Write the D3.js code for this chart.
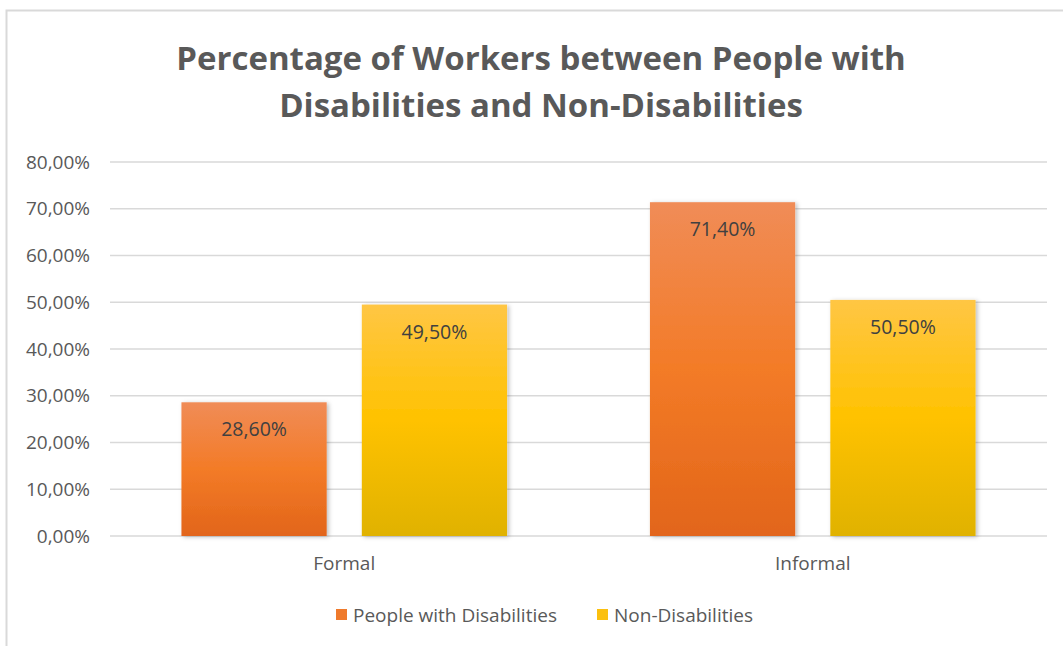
<!DOCTYPE html>
<html>
<head>
<meta charset="utf-8">
<script src="https://cdn.jsdelivr.net/npm/d3@7"></script>
<style>
  body { margin: 0; background: #fff; }
  svg text { font-family: "Open Sans", "Noto Sans", sans-serif; }
</style>
</head>
<body>
<div id="chart"></div>
<script>
// Data
const categories = ["Formal", "Informal"];
const seriesNames = ["People with Disabilities", "Non-Disabilities"];
const disabledValues = [28.6, 71.4];
const nonDisabledValues = [49.5, 50.5];
const yTicks = [0, 10, 20, 30, 40, 50, 60, 70, 80];
const titleLines = ["Percentage of Workers between People with", "Disabilities and Non-Disabilities"];

function drawChart() {
    const W = 1063, H = 646;
    const margin = { top: 162, right: 16, bottom: 110, left: 110 };
    const width = W - margin.left - margin.right;
    const height = H - margin.top - margin.bottom;

    const locale = d3.formatLocale({ decimal: ",", thousands: ".", grouping: [3], currency: ["", "€"] });
    const fmt = v => locale.format(".2f")(v) + "%";

    const svg = d3.select("#chart").append("svg")
        .attr("width", W)
        .attr("height", H);

    // gradients + shadow
    const defs = svg.append("defs");
    const grads = [
        { id: "gOrange", stops: ["#f08c57", "#f37b27", "#e2651a"] },
        { id: "gYellow", stops: ["#ffc644", "#ffc200", "#e0b200"] }
    ];
    grads.forEach(g => {
        const lg = defs.append("linearGradient").attr("id", g.id)
            .attr("x1", 0).attr("y1", 0).attr("x2", 0).attr("y2", 1);
        lg.append("stop").attr("offset", "0%").attr("stop-color", g.stops[0]);
        lg.append("stop").attr("offset", "50%").attr("stop-color", g.stops[1]);
        lg.append("stop").attr("offset", "100%").attr("stop-color", g.stops[2]);
    });
    const f = defs.append("filter").attr("id", "shadow")
        .attr("x", "-10%").attr("y", "-10%").attr("width", "130%").attr("height", "120%");
    f.append("feDropShadow").attr("dx", 2).attr("dy", 1).attr("stdDeviation", 2)
        .attr("flood-color", "#000").attr("flood-opacity", 0.25);

    // chart frame
    svg.append("path")
        .attr("d", `M6.5,${H} V10.5 H${W}`)
        .attr("fill", "none")
        .attr("stroke", "#d9d9d9")
        .attr("stroke-width", 2);

    // title
    svg.append("text")
        .attr("x", 541)
        .attr("text-anchor", "middle")
        .attr("fill", "#595959")
        .style("font-size", "33px")
        .style("font-weight", "bold")
        .selectAll("tspan")
        .data(titleLines)
        .enter().append("tspan")
        .attr("x", 541)
        .attr("y", (d, i) => 70 + i * 47)
        .text(d => d);

    const g = svg.append("g")
        .attr("transform", `translate(${margin.left}, ${margin.top})`);

    const x0 = d3.scaleBand().domain(categories).range([0, width]).padding(0);
    const y = d3.scaleLinear().domain([0, 80]).range([height, 0]);

    // gridlines
    g.append("g")
        .selectAll("line")
        .data(yTicks)
        .enter().append("line")
        .attr("x1", 0).attr("x2", width)
        .attr("y1", d => y(d)).attr("y2", d => y(d))
        .attr("stroke", "#d9d9d9")
        .attr("stroke-width", 1.5);

    // y axis labels
    const yAxis = g.append("g")
        .call(d3.axisLeft(y).tickValues(yTicks).tickFormat(fmt).tickSize(0).tickPadding(20));
    yAxis.select(".domain").remove();
    yAxis.selectAll("text")
        .attr("fill", "#595959")
        .style("font-size", "19px")
        .style("font-family", "'Open Sans', sans-serif");

    // x axis labels
    const xAxis = g.append("g")
        .attr("transform", `translate(0, ${height})`)
        .call(d3.axisBottom(x0).tickSize(0).tickPadding(21));
    xAxis.select(".domain").remove();
    xAxis.selectAll("text")
        .attr("fill", "#595959")
        .style("font-size", "19px")
        .style("font-family", "'Open Sans', sans-serif");

    // bars
    const bw = x0.bandwidth();
    const barW = bw * 0.31;
    const innerGap = bw * 0.075;
    const series = [
        { name: seriesNames[0], values: disabledValues, fill: "url(#gOrange)", swatch: "#ef7a2c" },
        { name: seriesNames[1], values: nonDisabledValues, fill: "url(#gYellow)", swatch: "#fbc00f" }
    ];
    const barX = (ci, si) => x0(categories[ci]) + bw / 2 - barW - innerGap / 2 + si * (barW + innerGap);

    series.forEach((s, si) => {
        const sg = g.append("g");
        sg.selectAll("rect")
            .data(s.values)
            .enter().append("rect")
            .attr("x", (d, i) => barX(i, si))
            .attr("y", d => y(d))
            .attr("width", barW)
            .attr("height", d => height - y(d))
            .attr("fill", s.fill)
            .attr("filter", "url(#shadow)");
        sg.selectAll("text")
            .data(s.values)
            .enter().append("text")
            .attr("x", (d, i) => barX(i, si) + barW / 2)
            .attr("y", d => y(d) + 34)
            .attr("text-anchor", "middle")
            .attr("fill", "#404040")
            .style("font-size", "19.5px")
            .text(d => fmt(d));
    });

    // legend
    const legend = svg.append("g").attr("transform", "translate(336, 615)");
    const legendX = [0, 261];
    series.forEach((s, i) => {
        const lg = legend.append("g").attr("transform", `translate(${legendX[i]}, 0)`);
        lg.append("rect")
            .attr("x", 0).attr("y", -6)
            .attr("width", 11).attr("height", 11)
            .attr("fill", s.swatch);
        lg.append("text")
            .attr("x", 17).attr("y", 7)
            .attr("fill", "#595959")
            .style("font-size", "19px")
            .text(s.name);
    });
}

drawChart();
</script>
</body>
</html>
